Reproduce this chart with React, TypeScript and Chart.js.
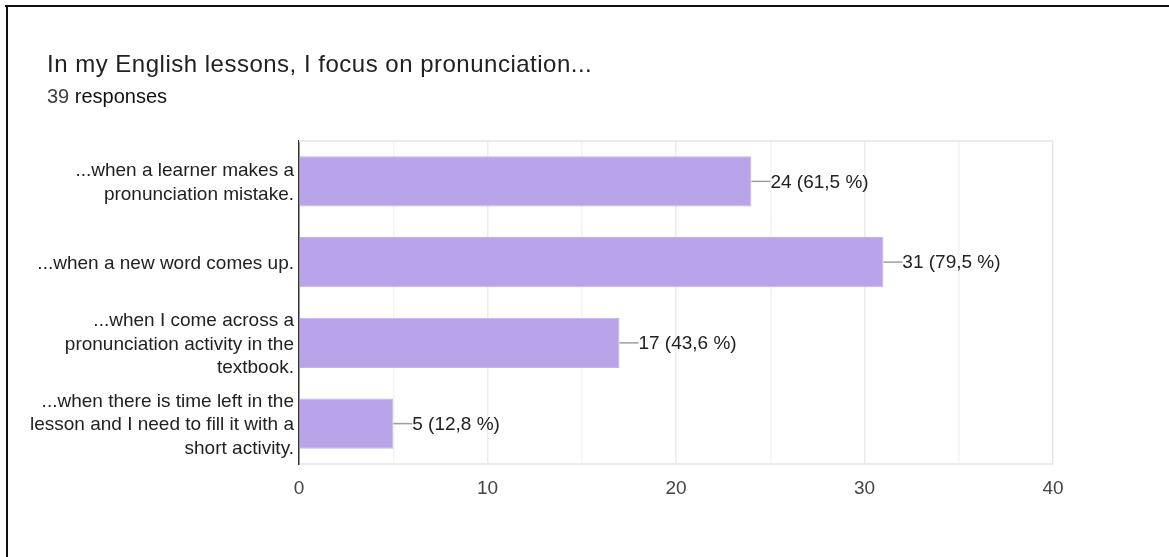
import React, { useEffect, useRef } from "react";
import { Chart, registerables } from "chart.js";

Chart.register(...registerables);

const TITLE = "In my English lessons, I focus on pronunciation...";
const RESPONSES = 39;
const categories: string[][] = [
  ["...when a learner makes a", "pronunciation mistake."],
  ["...when a new word comes up."],
  ["...when I come across a", "pronunciation activity in the", "textbook."],
  ["...when there is time left in the", "lesson and I need to fill it with a", "short activity."],
];
const counts: number[] = [24, 31, 17, 5];
const xMin = 0;
const xMax = 40;

const W = 1169;
const H = 557;
const CHART_FONT = "'Liberation Sans', Arial, sans-serif";
const FS = 19;
const LH = 23.5;

const decor = {
  id: "decor",
  beforeDraw(chart: any) {
    const ctx = chart.ctx;
    ctx.save();
    ctx.fillStyle = "#ffffff";
    ctx.fillRect(0, 0, W, H);
    // frame
    ctx.fillStyle = "#111111";
    ctx.fillRect(5, 5, W - 5, 2);
    ctx.fillRect(6, 5, 2, H - 5);
    // title
    ctx.textBaseline = "alphabetic";
    ctx.textAlign = "left";
    ctx.fillStyle = "#202124";
    ctx.font = `24px ${CHART_FONT}`;
    try {
      (ctx as any).letterSpacing = "0.5px";
    } catch (e) {}
    ctx.fillText(TITLE, 47, 72);
    try {
      (ctx as any).letterSpacing = "0px";
    } catch (e) {}
    ctx.font = `20px ${CHART_FONT}`;
    ctx.fillStyle = "#3c4043";
    const num = String(RESPONSES) + " ";
    ctx.fillText(num, 47, 103);
    const w = ctx.measureText(num).width;
    ctx.fillStyle = "#111111";
    ctx.fillText("responses", 47 + w, 103);
    ctx.restore();
  },
  beforeDatasetsDraw(chart: any) {
    const { ctx, chartArea } = chart;
    ctx.save();
    ctx.strokeStyle = "#ebebeb";
    ctx.lineWidth = 2;
    ctx.beginPath();
    ctx.moveTo(chartArea.left, chartArea.top);
    ctx.lineTo(chartArea.right, chartArea.top);
    ctx.stroke();
    ctx.restore();
  },
  afterDatasetsDraw(chart: any) {
    const { ctx } = chart;
    const meta = chart.getDatasetMeta(0);
    const data = chart.data.datasets[0].data as number[];
    ctx.save();
    meta.data.forEach((bar: any, i: number) => {
      const v = data[i];
      const pct = ((v / RESPONSES) * 100).toFixed(1).replace(".", ",");
      const x = bar.x;
      const y = bar.y;
      ctx.strokeStyle = "#9e9e9e";
      ctx.lineWidth = 1.5;
      ctx.beginPath();
      ctx.moveTo(x, y);
      ctx.lineTo(x + 19, y);
      ctx.stroke();
      ctx.fillStyle = "#222222";
      ctx.font = `${FS}px ${CHART_FONT}`;
      ctx.textAlign = "left";
      ctx.textBaseline = "middle";
      ctx.fillText(`${v} (${pct} %)`, x + 19, y + 1);
    });
    // category labels
    const yScale = chart.scales.y;
    ctx.fillStyle = "#222222";
    ctx.font = `${FS}px ${CHART_FONT}`;
    ctx.textAlign = "right";
    ctx.textBaseline = "middle";
    const labels = chart.data.labels as string[][];
    labels.forEach((lines, i) => {
      const cy = yScale.getPixelForTick(i) + 1.5;
      const y0 = cy - ((lines.length - 1) * LH) / 2;
      lines.forEach((ln, j) => {
        ctx.fillText(ln, yScale.right - 5, y0 + j * LH);
      });
    });
    ctx.restore();
  },
};

export default function App() {
  const ref = useRef<HTMLCanvasElement | null>(null);
  useEffect(() => {
    if (!ref.current) return;
    const chart = new Chart(ref.current, {
      type: "bar",
      data: {
        labels: categories,
        datasets: [
          {
            data: counts,
            backgroundColor: "#b9a3e9",
            borderColor: "#c4b2ee",
            borderWidth: 1,
            categoryPercentage: 1,
            barPercentage: 0.62,
          },
        ],
      },
      plugins: [decor],
      options: {
        indexAxis: "y",
        animation: false,
        responsive: false,
        maintainAspectRatio: false,
        layout: { padding: { left: 0, top: 141, right: W - 1053, bottom: H - 464 - 40 } },
        plugins: {
          legend: { display: false },
          tooltip: { enabled: false },
          title: { display: false },
        },
        scales: {
          x: {
            min: xMin,
            max: xMax,
            afterFit: (s: any) => {
              s.height = 40;
            },
            ticks: {
              stepSize: 5,
              autoSkip: false,
              maxRotation: 0,
              padding: 13,
              color: "#444444",
              font: { family: CHART_FONT, size: FS },
              callback: (v: any) => (Number(v) % 10 === 0 ? String(v) : ""),
            },
            grid: {
              drawTicks: false,
              lineWidth: 1.5,
              color: (c: any) => {
                const v = c.tick ? c.tick.value : 0;
                if (v === xMax) return "#e6e6e6";
                return v % 10 === 0 ? "#ececec" : "#f4f4f4";
              },
            },
            border: { display: true, color: "#ebebeb", width: 2 },
          },
          y: {
            afterFit: (s: any) => {
              s.width = 299;
            },
            ticks: { display: false },
            grid: { display: false, drawTicks: false },
            border: { display: true, color: "#333333", width: 1.5 },
          },
        },
      },
    });
    return () => chart.destroy();
  }, []);
  return (
    <div style={{ position: "fixed", left: 0, top: 0, width: W, height: H, background: "#fff" }}>
      <canvas ref={ref} width={W} height={H} style={{ display: "block", width: W, height: H }} />
    </div>
  );
}
